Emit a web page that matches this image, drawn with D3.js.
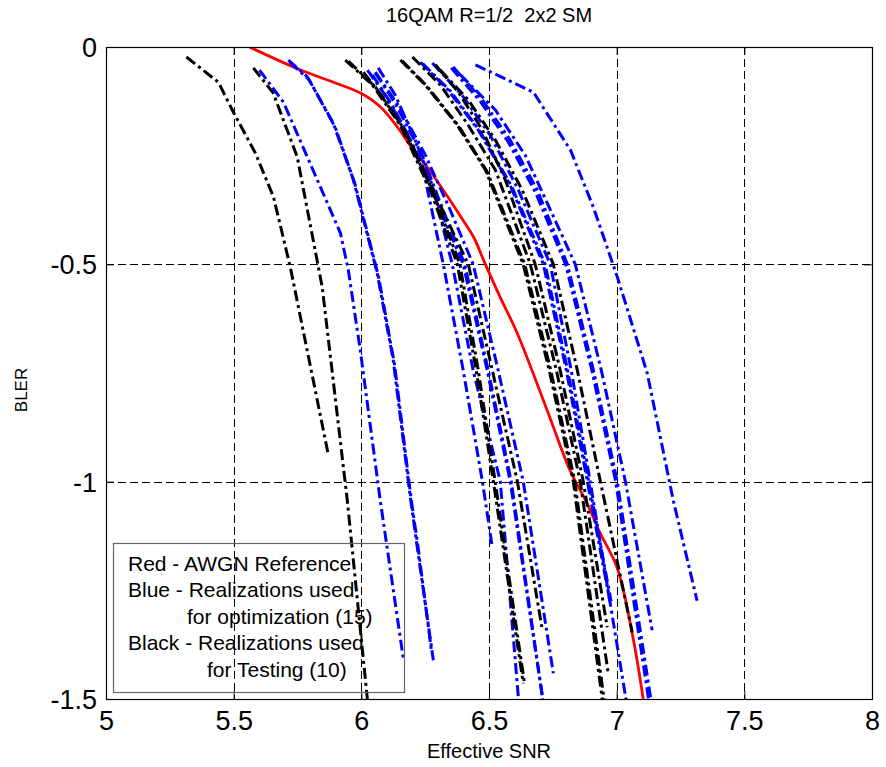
<!DOCTYPE html>
<html>
<head>
<meta charset="utf-8">
<script src="https://cdn.jsdelivr.net/npm/d3@7"></script>
<style>
  html, body { margin: 0; padding: 0; background: #fff; }
  svg { display: block; font-family: "Liberation Sans", Arial, Helvetica, sans-serif; }
  text { white-space: pre; }
</style>
</head>
<body>
<svg id="chart" width="886" height="767"></svg>
<script>
// ---------------- DATA ----------------
const chartTitle = "16QAM R=1/2  2x2 SM";
const xLabel = "Effective SNR";
const yLabel = "BLER";
const xTicks = [5, 5.5, 6, 6.5, 7, 7.5, 8];
const yTicks = [0, -0.5, -1, -1.5];
const legendLines = [
  "Red - AWGN Reference",
  "Blue - Realizations used",
  "for optimization (15)",
  "Black - Realizations used",
  "for Testing (10)"
];

// AWGN reference (red)
const redSNR  = [5.562, 5.762, 5.891, 5.997, 6.075, 6.141, 6.204, 6.258, 6.348, 6.399, 6.442, 6.482, 6.544, 6.611, 6.728, 6.818, 6.885, 6.935, 7.002, 7.064, 7.104];
const redBLER = [0.000, -0.053, -0.081, -0.106, -0.138, -0.184, -0.237, -0.276, -0.353, -0.399, -0.440, -0.495, -0.576, -0.659, -0.836, -0.975, -1.051, -1.118, -1.198, -1.359, -1.500];

// Realizations used for optimization (blue, 15)
const blueSNR = [
  [5.601, 5.695, 5.918, 5.949, 5.996, 6.074, 6.164],
  [5.714, 5.789, 5.890, 5.969, 6.062, 6.125, 6.192, 6.219, 6.282],
  [5.720, 5.795, 5.898, 5.975, 6.068, 6.130, 6.195, 6.222, 6.275],
  [6.024, 6.094, 6.184, 6.251, 6.321, 6.399, 6.474, 6.513],
  [6.066, 6.133, 6.211, 6.278, 6.356, 6.438, 6.544, 6.617],
  [6.043, 6.121, 6.223, 6.309, 6.399, 6.493, 6.583, 6.713],
  [6.055, 6.133, 6.235, 6.318, 6.405, 6.497, 6.587, 6.713],
  [6.055, 6.145, 6.251, 6.348, 6.438, 6.536, 6.634, 6.752],
  [6.231, 6.340, 6.458, 6.583, 6.713, 6.803, 6.885, 6.975],
  [6.240, 6.350, 6.466, 6.590, 6.720, 6.808, 6.890, 6.978],
  [6.278, 6.395, 6.505, 6.615, 6.740, 6.822, 6.896, 7.042],
  [6.360, 6.474, 6.583, 6.689, 6.807, 6.909, 7.002, 7.139],
  [6.352, 6.466, 6.575, 6.681, 6.800, 6.903, 6.996, 7.130],
  [6.388, 6.525, 6.642, 6.732, 6.838, 6.940, 7.034, 7.139],
  [6.447, 6.674, 6.819, 6.909, 7.003, 7.120, 7.222, 7.315]
];
const blueBLER = [
  [-0.053, -0.127, -0.428, -0.513, -0.698, -1.043, -1.405],
  [-0.030, -0.069, -0.175, -0.306, -0.520, -0.721, -1.036, -1.151, -1.411],
  [-0.035, -0.075, -0.185, -0.315, -0.530, -0.730, -1.040, -1.150, -1.390],
  [-0.053, -0.111, -0.203, -0.306, -0.500, -0.744, -0.999, -1.151],
  [-0.048, -0.111, -0.214, -0.318, -0.500, -0.744, -0.999, -1.510],
  [-0.064, -0.134, -0.249, -0.375, -0.500, -0.744, -0.999, -1.510],
  [-0.060, -0.130, -0.245, -0.372, -0.500, -0.744, -0.999, -1.510],
  [-0.058, -0.134, -0.249, -0.375, -0.500, -0.744, -0.999, -1.441],
  [-0.035, -0.099, -0.191, -0.318, -0.500, -0.744, -0.999, -1.280],
  [-0.038, -0.102, -0.195, -0.322, -0.500, -0.744, -0.999, -1.275],
  [-0.037, -0.111, -0.203, -0.329, -0.500, -0.744, -0.999, -1.520],
  [-0.046, -0.122, -0.214, -0.329, -0.500, -0.744, -0.999, -1.520],
  [-0.048, -0.125, -0.218, -0.333, -0.500, -0.744, -0.999, -1.520],
  [-0.064, -0.145, -0.249, -0.364, -0.500, -0.744, -0.999, -1.342],
  [-0.041, -0.104, -0.237, -0.369, -0.530, -0.751, -1.044, -1.274]
];

// Realizations used for testing (black, 10)
const blackSNR = [
  [5.315, 5.440, 5.499, 5.585, 5.656, 5.722, 5.871],
  [5.577, 5.655, 5.749, 5.847, 5.945, 6.027],
  [5.937, 6.043, 6.153, 6.270, 6.376, 6.450, 6.517, 6.634],
  [5.950, 6.055, 6.163, 6.280, 6.386, 6.458, 6.524, 6.638],
  [6.008, 6.094, 6.200, 6.309, 6.419, 6.513, 6.611, 6.709],
  [6.153, 6.250, 6.376, 6.486, 6.634, 6.736, 6.830, 6.948],
  [6.160, 6.257, 6.383, 6.492, 6.640, 6.742, 6.836, 6.955],
  [6.200, 6.309, 6.419, 6.525, 6.662, 6.764, 6.857, 6.967],
  [6.290, 6.380, 6.474, 6.564, 6.681, 6.779, 6.869, 6.963],
  [6.309, 6.419, 6.525, 6.630, 6.752, 6.846, 6.936, 7.061]
];
const blackBLER = [
  [-0.023, -0.081, -0.150, -0.244, -0.345, -0.507, -0.939],
  [-0.048, -0.106, -0.253, -0.553, -1.043, -1.520],
  [-0.030, -0.087, -0.180, -0.329, -0.500, -0.744, -0.999, -1.464],
  [-0.033, -0.092, -0.185, -0.333, -0.500, -0.744, -0.999, -1.460],
  [-0.058, -0.122, -0.226, -0.364, -0.500, -0.744, -0.999, -1.342],
  [-0.030, -0.087, -0.180, -0.283, -0.500, -0.744, -0.999, -1.520],
  [-0.032, -0.090, -0.183, -0.286, -0.500, -0.744, -0.999, -1.520],
  [-0.023, -0.087, -0.180, -0.283, -0.500, -0.744, -0.999, -1.441],
  [-0.041, -0.104, -0.191, -0.306, -0.500, -0.744, -0.999, -1.335],
  [-0.053, -0.122, -0.214, -0.329, -0.500, -0.744, -0.999, -1.347]
];

// ---------------- LAYOUT ----------------
const margin = { left: 106, top: 47, right: 886 - 872, bottom: 767 - 699 };
const W = 886, H = 767;
const pw = W - margin.left - margin.right;
const ph = H - margin.top - margin.bottom;

const svg = d3.select("#chart");
const g = svg.append("g").attr("transform", `translate(${margin.left},${margin.top})`);

const x = d3.scaleLinear().domain([5, 8]).range([0, pw]);
const y = d3.scaleLinear().domain([-1.5, 0]).range([ph, 0]);

svg.append("defs").append("clipPath").attr("id", "clip")
  .append("rect").attr("x", 0).attr("y", 0).attr("width", pw).attr("height", ph);

// grid
const grid = g.append("g").attr("class", "grid");
grid.selectAll("line.vx").data(xTicks.slice(1, -1)).enter().append("line")
  .attr("x1", d => Math.round(x(d)) + 0.5).attr("x2", d => Math.round(x(d)) + 0.5)
  .attr("y1", 0).attr("y2", ph)
  .attr("stroke", "#000").attr("stroke-width", 1).attr("stroke-dasharray", "8,4");
grid.selectAll("line.hy").data(yTicks.slice(1, -1)).enter().append("line")
  .attr("y1", d => Math.round(y(d)) + 0.5).attr("y2", d => Math.round(y(d)) + 0.5)
  .attr("x1", 0).attr("x2", pw)
  .attr("stroke", "#000").attr("stroke-width", 1).attr("stroke-dasharray", "8,4");

// curves
const zipSeries = (xs, ys) => xs.map((arr, i) => arr.map((v, j) => [v, ys[i][j]]));
const redLine = d3.line().x(d => x(d[0])).y(d => y(d[1])).curve(d3.curveCatmullRom.alpha(0.5));
const line = d3.line().x(d => x(d[0])).y(d => y(d[1]));
const curves = g.append("g").attr("clip-path", "url(#clip)");

curves.append("path").datum(redSNR.map((v, i) => [v, redBLER[i]]))
  .attr("d", redLine).attr("fill", "none")
  .attr("stroke", "#ff0000").attr("stroke-width", 2.8).attr("stroke-linejoin", "round");

curves.selectAll("path.blue").data(zipSeries(blueSNR, blueBLER)).enter().append("path")
  .attr("class", "blue").attr("d", line).attr("fill", "none")
  .attr("stroke", "#0000ff").attr("stroke-width", 3)
  .attr("stroke-dasharray", "11,4,3,4");

curves.selectAll("path.black").data(zipSeries(blackSNR, blackBLER)).enter().append("path")
  .attr("class", "black").attr("d", line).attr("fill", "none")
  .attr("stroke", "#000").attr("stroke-width", 3)
  .attr("stroke-dasharray", "11,4,3,4");

// axes frame
g.append("rect").attr("x", 0.5).attr("y", 0.5).attr("width", pw).attr("height", ph)
  .attr("fill", "none").attr("stroke", "#000").attr("stroke-width", 1.2);

const tickLen = 8;
const fmt = d => String(d);
const axB = d3.axisBottom(x).tickValues(xTicks).tickSize(-tickLen).tickFormat(fmt);
const axT = d3.axisTop(x).tickValues(xTicks).tickSize(-tickLen).tickFormat("");
const axL = d3.axisLeft(y).tickValues(yTicks).tickSize(-tickLen).tickFormat(fmt);
const axR = d3.axisRight(y).tickValues(yTicks).tickSize(-tickLen).tickFormat("");

function styleAxis(sel) {
  sel.select(".domain").remove();
  sel.selectAll(".tick line").attr("stroke", "#000");
  sel.selectAll(".tick text").attr("fill", "#000").attr("font-size", 27)
    .attr("font-family", "'Liberation Sans', Arial, sans-serif");
}
g.append("g").attr("transform", `translate(0,${ph})`).call(axB).call(styleAxis)
  .selectAll(".tick text").attr("dy", "0.71em").attr("y", 12);
g.append("g").call(axT).call(styleAxis);
g.append("g").call(axL).call(styleAxis)
  .selectAll(".tick text").attr("x", -9).attr("dy", "0.35em");
g.append("g").attr("transform", `translate(${pw},0)`).call(axR).call(styleAxis);

// titles
svg.append("text").attr("x", margin.left + pw / 2).attr("y", 22)
  .attr("text-anchor", "middle").attr("font-size", 20).text(chartTitle);
svg.append("text").attr("x", margin.left + pw / 2).attr("y", 758)
  .attr("text-anchor", "middle").attr("font-size", 20).text(xLabel);
svg.append("text").attr("transform", `translate(27,390) rotate(-90)`)
  .attr("text-anchor", "middle").attr("font-size", 17).text(yLabel);

// legend annotation box
const lg = svg.append("g").attr("transform", "translate(113,543)");
lg.append("rect").attr("x", 0.5).attr("y", 0.5).attr("width", 291).attr("height", 149)
  .attr("fill", "none").attr("stroke", "#666").attr("stroke-width", 1.2);
const indents = [15, 15, 74, 15, 94];
lg.selectAll("text").data(legendLines).enter().append("text")
  .attr("x", (d, i) => indents[i]).attr("y", (d, i) => 27.5 + i * 26.6)
  .attr("font-size", 21).attr("fill", "#000").text(d => d);
</script>
</body>
</html>
